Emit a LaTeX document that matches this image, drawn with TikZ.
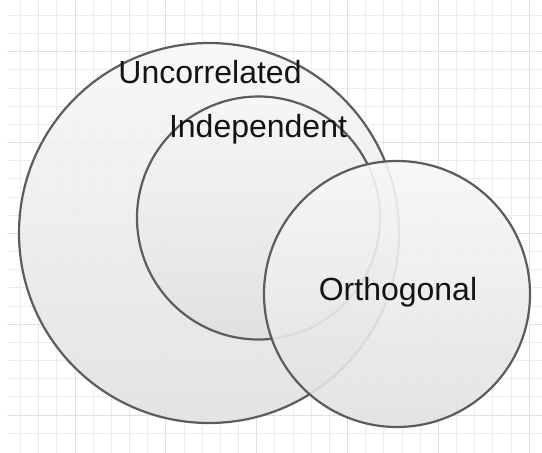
\documentclass[tikz,border=0pt]{standalone}
\usepackage{fontspec}
\setmainfont{Liberation Sans}
\definecolor{vennline}{RGB}{92,92,92}
\definecolor{gridminor}{RGB}{236,236,236}
\definecolor{gridmajor}{RGB}{224,224,224}

\begin{document}
\begin{tikzpicture}[x=1pt,y=-1pt,line cap=round,line join=round,every node/.style={inner sep=1pt},
  venn/.style={circle,draw=vennline,line width=2.2pt,top color=gray!6,bottom color=gray!24,fill opacity=0.9,inner sep=0pt},
  setlabel/.style={font=\fontsize{32}{38}\selectfont,text=black!92,anchor=base}]
  \useasboundingbox (0,0) rectangle (542,453);
  \def\gx{75}
  \def\gy{51.7}
  \def\gs{18.17}
  % background grid
  \foreach \k in {-3,...,25} {
    \draw[gridminor,line width=1pt] ({\gx+\k*\gs},0) -- ({\gx+\k*\gs},453);
  }
  \foreach \k in {-2,...,21} {
    \draw[gridminor,line width=1pt] (8,{\gy+\k*\gs}) -- (542,{\gy+\k*\gs});
  }
  \foreach \k in {0,5,...,25} {
    \draw[gridmajor,line width=1pt] ({\gx+\k*\gs},0) -- ({\gx+\k*\gs},453);
  }
  \foreach \k in {0,5,...,20} {
    \draw[gridmajor,line width=1pt] (8,{\gy+\k*\gs}) -- (542,{\gy+\k*\gs});
  }
  % the three sets
  \node[venn,minimum size=380pt] (uncorr) at (209,233) {};
  \node[venn,minimum size=243pt] (indep) at (258.5,218) {};
  \node[venn,minimum size=266pt] (orth) at (397,294) {};
  \node[setlabel] (uncorrtext) at (210,83) {Uncorrelated};
  \node[setlabel] (indeptext) at (258,137) {Independent};
  \node[setlabel] (orthtext) at (398,300) {Orthogonal};
\end{tikzpicture}
\end{document}
